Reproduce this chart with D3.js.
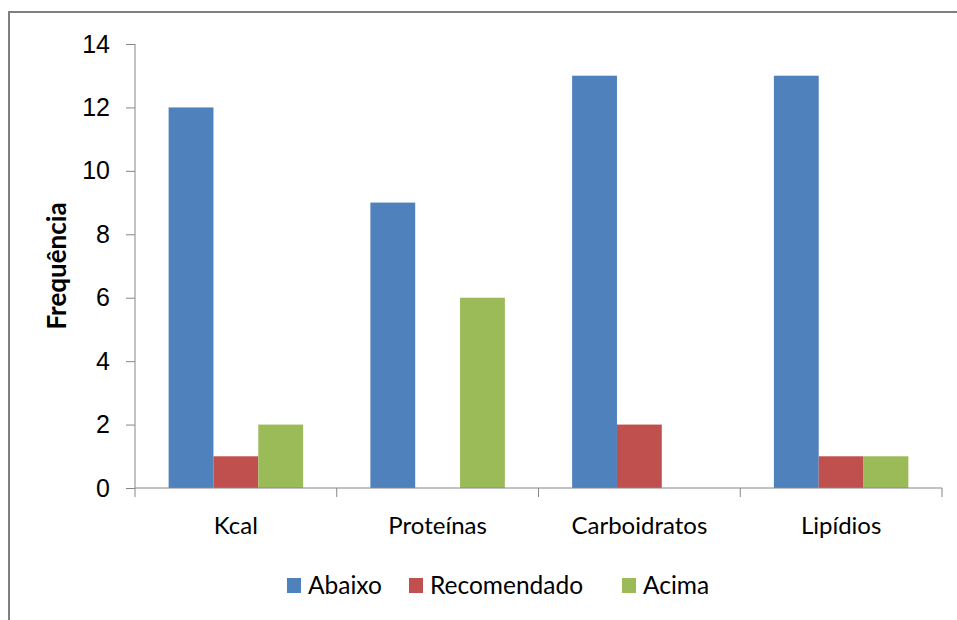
<!DOCTYPE html>
<html>
<head>
<meta charset="utf-8">
<script src="https://cdn.jsdelivr.net/npm/d3@7"></script>
<style>
  body { margin: 0; background: #fff; }
  svg { font-family: Lato, "Open Sans", sans-serif; }
</style>
</head>
<body>
<svg id="chart" width="957" height="620"></svg>
<script>
// data
const categories = ["Kcal", "Proteínas", "Carboidratos", "Lipídios"];
const seriesNames = ["Abaixo", "Recomendado", "Acima"];
const abaixo = [12, 9, 13, 13];
const recomendado = [1, 0, 2, 1];
const acima = [2, 6, 0, 1];
const yTicks = [0, 2, 4, 6, 8, 10, 12, 14];

const seriesColors = ["#4F81BD", "#C0504D", "#9BBB59"];
const axisColor = "#868686";

const series = [abaixo, recomendado, acima];

const svg = d3.select("#chart");

// outer frame (only left and top edges visible in the crop)
svg.append("path")
    .attr("d", "M9,620 V12 H957")
    .attr("fill", "none")
    .attr("stroke", "#7f7f7f")
    .attr("stroke-width", 2);

const plot = { left: 135, right: 942, top: 44, bottom: 488 };

const x0 = d3.scaleBand()
    .domain(categories)
    .range([plot.left, plot.right])
    .paddingInner(0)
    .paddingOuter(0);

// Excel style gap width 150%
const x1 = d3.scaleBand()
    .domain(seriesNames)
    .range([0, x0.bandwidth()])
    .paddingInner(0)
    .paddingOuter(0.75);

const y = d3.scaleLinear()
    .domain([0, 14])
    .range([plot.bottom, plot.top]);

// bars
const groups = svg.append("g").selectAll("g")
    .data(categories)
    .enter().append("g")
    .attr("transform", d => "translate(" + x0(d) + ",0)");

groups.selectAll("rect")
    .data((d, i) => seriesNames.map((s, j) => ({ s: s, j: j, v: series[j][i] })))
    .enter().append("rect")
    .attr("x", d => x1(d.s))
    .attr("y", d => y(d.v))
    .attr("width", x1.bandwidth())
    .attr("height", d => y(0) - y(d.v))
    .attr("fill", d => seriesColors[d.j]);

// y axis
const yAxis = d3.axisLeft(y)
    .tickValues(yTicks)
    .tickSize(9)
    .tickPadding(16)
    .tickFormat(d3.format("d"));

const gy = svg.append("g")
    .attr("transform", "translate(" + plot.left + ",0)")
    .call(yAxis);
gy.select(".domain").attr("stroke", axisColor).attr("d", "M0," + plot.top + "V" + (plot.bottom + 9));
gy.selectAll(".tick line").attr("stroke", axisColor);
gy.selectAll(".tick text")
    .attr("fill", "#000")
    .style("font-size", "25px");

// x axis with boundary ticks
const gx = svg.append("g")
    .attr("transform", "translate(0," + plot.bottom + ")");
gx.append("line")
    .attr("x1", plot.left).attr("x2", plot.right)
    .attr("stroke", axisColor);
const bounds = categories.map(c => x0(c) + x0.bandwidth());
gx.selectAll("line.tk")
    .data(bounds)
    .enter().append("line")
    .attr("class", "tk")
    .attr("x1", d => d).attr("x2", d => d)
    .attr("y1", 0).attr("y2", 9)
    .attr("stroke", axisColor);
gx.selectAll("text")
    .data(categories)
    .enter().append("text")
    .attr("x", d => x0(d) + x0.bandwidth() / 2)
    .attr("y", 46)
    .attr("text-anchor", "middle")
    .style("font-size", "24px")
    .text(d => d);

// y axis title
svg.append("text")
    .attr("transform", "translate(66,266) rotate(-90)")
    .attr("text-anchor", "middle")
    .style("font-size", "26px")
    .style("font-weight", "bold")
    .text("Frequência");

// legend
const legendX = [287, 409, 622];
const legend = svg.append("g").selectAll("g")
    .data(seriesNames)
    .enter().append("g")
    .attr("transform", (d, i) => "translate(" + legendX[i] + ",578)");
legend.append("rect")
    .attr("width", 14).attr("height", 15)
    .attr("fill", (d, i) => seriesColors[i]);
legend.append("text")
    .attr("x", 21).attr("y", 7.5)
    .attr("dy", "0.36em")
    .style("font-size", "24.5px")
    .text(d => d);
</script>
</body>
</html>
